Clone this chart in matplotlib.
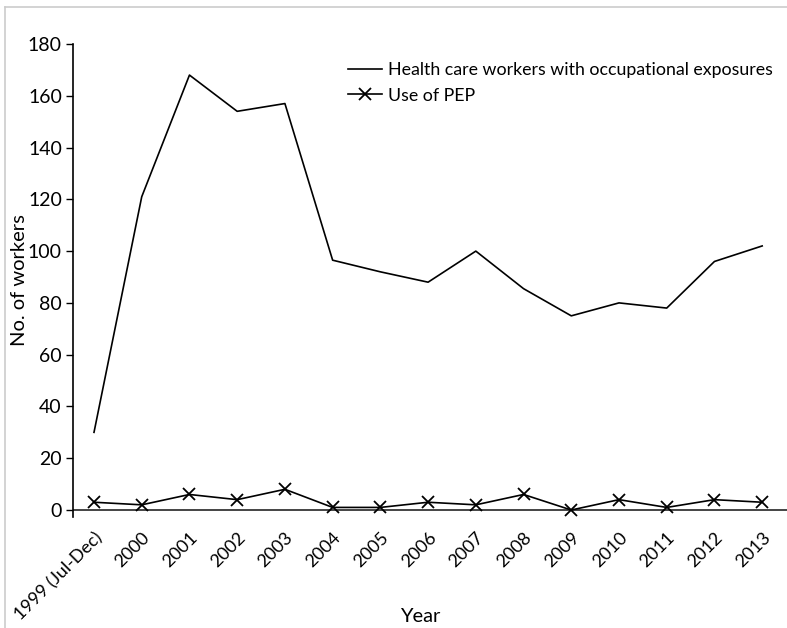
import numpy as np
import matplotlib.pyplot as plt
from matplotlib.lines import Line2D

plt.rcParams['font.family'] = ['Lato', 'DejaVu Sans']

# data
years = ['1999 (Jul-Dec)', '2000', '2001', '2002', '2003', '2004', '2005', '2006',
         '2007', '2008', '2009', '2010', '2011', '2012', '2013']
exposures = [30, 121, 168, 154, 157, 96.5, 92, 88, 100, 85.5, 75, 80, 78, 96, 102]
pep = [3, 2, 6, 4, 8, 1, 1, 3, 2, 6, 0, 4, 1, 4, 3]

x = np.arange(len(years))

fig = plt.figure(figsize=(7.87, 6.28), dpi=100)
ax = fig.add_axes([73/787, 1 - 517/628, 1 - 73/787, (517 - 44)/628])

ax.plot(x, exposures, color='black', lw=1.2,
        label='Health care workers with occupational exposures')
ax.plot(x, pep, color='black', lw=1.2, marker='x', markersize=8, mew=1.3,
        label='Use of PEP')
ax.axhline(0, color='#444444', lw=1.4, zorder=0)

ax.set_xlim(-0.44, 14.52)
ax.set_ylim(-2.7, 180)
ax.set_yticks(range(0, 181, 20))
ax.set_xticks(x)
ax.set_xticklabels(years, rotation=45, ha='right', rotation_mode='anchor', fontsize=13)
ax.tick_params(axis='x', length=0, pad=9)
ax.tick_params(axis='y', labelsize=14, length=5, width=1, direction='out', pad=3)

for s in ['top', 'right', 'bottom']:
    ax.spines[s].set_visible(False)
ax.spines['left'].set_linewidth(1.2)

ax.set_ylabel('No. of workers', fontsize=14.5)
ax.yaxis.label.set_va('center')
ax.yaxis.set_label_coords(-(73 - 19) / (787 - 73), (517 - 280) / (517 - 44))
ax.set_xlabel('Year', fontsize=14.5)
ax.xaxis.label.set_va('center')
ax.xaxis.set_label_coords((420 - 73) / (787 - 73), -(616 - 517) / (517 - 44))

ax.legend(loc='upper right', bbox_to_anchor=(0.995, 0.985), frameon=False, fontsize=12.8,
          handlelength=1.9, handletextpad=0.35, labelspacing=0.55, borderaxespad=0.2)

# light frame around the picture
fig.add_artist(Line2D([5/787, 5/787], [0, 1 - 7/628], color='#cccccc', lw=1.2))
fig.add_artist(Line2D([5/787, 1], [1 - 7/628, 1 - 7/628], color='#cccccc', lw=1.2))

fig.savefig('out.png', dpi=100)
